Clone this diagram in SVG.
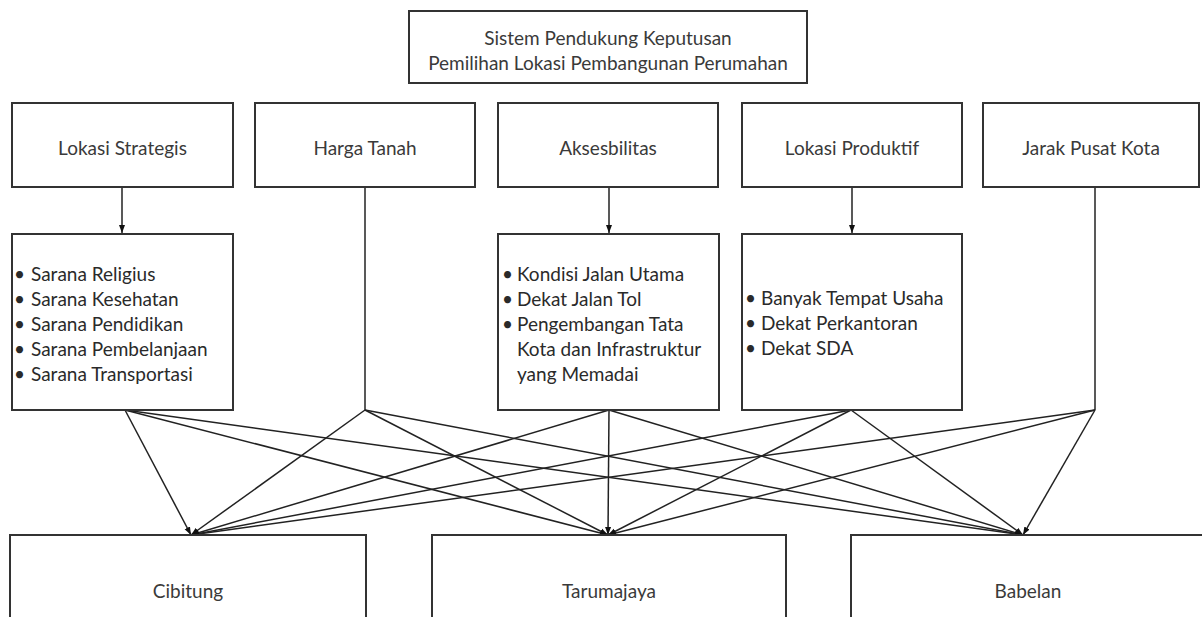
<svg xmlns="http://www.w3.org/2000/svg" width="1202" height="617" viewBox="0 0 1202 617">
<style>
.box{fill:#fff;stroke:#333;stroke-width:2}
.t{font-family:Lato,"Open Sans","Liberation Sans",sans-serif;font-size:19px;fill:#3a3a3a;text-anchor:middle;dominant-baseline:central}
.l{font-family:Lato,"Open Sans","Liberation Sans",sans-serif;font-size:19px;fill:#2a2a2a;dominant-baseline:central}
.c line{stroke:#222;stroke-width:1.5;fill:none}
</style>
<defs>
<marker id="ah" markerUnits="userSpaceOnUse" markerWidth="8" markerHeight="8" viewBox="0 0 8 8" refX="8" refY="4" orient="auto">
<path d="M0,1 L8,4 L0,7 Z" fill="#111"/>
</marker>
</defs>
<rect width="1202" height="617" fill="#fff"/>
<g class="c" id="connectors">
<line x1="122" y1="187" x2="122" y2="233" marker-end="url(#ah)"/>
<line x1="609" y1="187" x2="609" y2="233" marker-end="url(#ah)"/>
<line x1="852" y1="187" x2="852" y2="233" marker-end="url(#ah)"/>
<line x1="365" y1="187" x2="365" y2="410"/>
<line x1="1095" y1="187" x2="1095" y2="410"/>
<line x1="125" y1="410" x2="191" y2="535" marker-end="url(#ah)"/>
<line x1="125" y1="410" x2="608" y2="535" marker-end="url(#ah)"/>
<line x1="125" y1="410" x2="1023" y2="535" marker-end="url(#ah)"/>
<line x1="365" y1="410" x2="191" y2="535" marker-end="url(#ah)"/>
<line x1="365" y1="410" x2="608" y2="535" marker-end="url(#ah)"/>
<line x1="365" y1="410" x2="1023" y2="535" marker-end="url(#ah)"/>
<line x1="609" y1="410" x2="191" y2="535" marker-end="url(#ah)"/>
<line x1="609" y1="410" x2="608" y2="535" marker-end="url(#ah)"/>
<line x1="609" y1="410" x2="1023" y2="535" marker-end="url(#ah)"/>
<line x1="851" y1="410" x2="191" y2="535" marker-end="url(#ah)"/>
<line x1="851" y1="410" x2="608" y2="535" marker-end="url(#ah)"/>
<line x1="851" y1="410" x2="1023" y2="535" marker-end="url(#ah)"/>
<line x1="1095" y1="410" x2="191" y2="535" marker-end="url(#ah)"/>
<line x1="1095" y1="410" x2="608" y2="535" marker-end="url(#ah)"/>
<line x1="1095" y1="410" x2="1023" y2="535" marker-end="url(#ah)"/>
</g>
<g id="goal">
<rect class="box" x="409" y="11" width="398" height="72"/>
<text class="t" x="608" y="37">Sistem Pendukung Keputusan</text>
<text class="t" x="608" y="62">Pemilihan Lokasi Pembangunan Perumahan</text>
</g>
<g id="c1"><rect class="box" x="12" y="103" width="221" height="84"/><text class="t" x="122.5" y="147">Lokasi Strategis</text></g>
<g id="c2"><rect class="box" x="255" y="103" width="220" height="84"/><text class="t" x="365" y="147">Harga Tanah</text></g>
<g id="c3"><rect class="box" x="498" y="103" width="220" height="84"/><text class="t" x="608" y="147">Aksesbilitas</text></g>
<g id="c4"><rect class="box" x="742" y="103" width="220" height="84"/><text class="t" x="852" y="147">Lokasi Produktif</text></g>
<g id="c5"><rect class="box" x="983" y="103" width="216" height="84"/><text class="t" x="1091" y="147">Jarak Pusat Kota</text></g>
<g id="s1"><rect class="box" x="12" y="234" width="221" height="176"/>
<text class="l" x="14" y="273">•</text><text class="l" x="31" y="273">Sarana Religius</text>
<text class="l" x="14" y="298">•</text><text class="l" x="31" y="298">Sarana Kesehatan</text>
<text class="l" x="14" y="323">•</text><text class="l" x="31" y="323">Sarana Pendidikan</text>
<text class="l" x="14" y="348">•</text><text class="l" x="31" y="348">Sarana Pembelanjaan</text>
<text class="l" x="14" y="373">•</text><text class="l" x="31" y="373">Sarana Transportasi</text>
</g>
<g id="s3"><rect class="box" x="498" y="234" width="221" height="176"/>
<text class="l" x="502" y="273">•</text><text class="l" x="517" y="273">Kondisi Jalan Utama</text>
<text class="l" x="502" y="298">•</text><text class="l" x="517" y="298">Dekat Jalan Tol</text>
<text class="l" x="502" y="323">•</text><text class="l" x="517" y="323">Pengembangan Tata</text>
<text class="l" x="517" y="348">Kota dan Infrastruktur</text>
<text class="l" x="517" y="373">yang Memadai</text>
</g>
<g id="s4"><rect class="box" x="742" y="234" width="220" height="176"/>
<text class="l" x="745" y="297">•</text><text class="l" x="761" y="297">Banyak Tempat Usaha</text>
<text class="l" x="745" y="322">•</text><text class="l" x="761" y="322">Dekat Perkantoran</text>
<text class="l" x="745" y="347">•</text><text class="l" x="761" y="347">Dekat SDA</text>
</g>
<g id="a1"><rect class="box" x="10" y="535" width="356" height="110"/><text class="t" x="188" y="590">Cibitung</text></g>
<g id="a2"><rect class="box" x="432" y="535" width="354" height="110"/><text class="t" x="609" y="590">Tarumajaya</text></g>
<g id="a3"><rect class="box" x="851" y="535" width="360" height="110"/><text class="t" x="1028" y="590">Babelan</text></g>
</svg>
